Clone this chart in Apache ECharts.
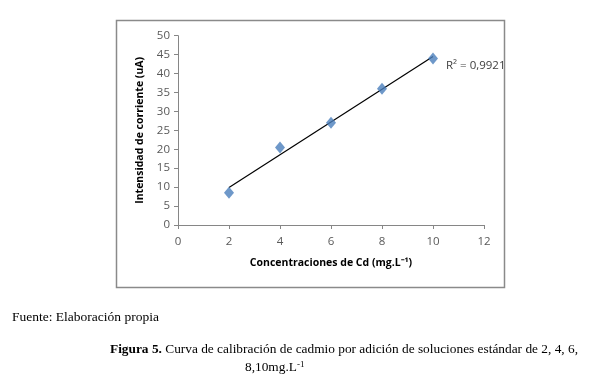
<!DOCTYPE html>
<html><head><meta charset="utf-8">
<script src="https://cdn.jsdelivr.net/npm/echarts@6/dist/echarts.min.js"></script>
<style>html,body{margin:0;padding:0;background:#fff}#c{width:589px;height:385px}</style>
</head><body><div id="c"></div>
<script>
const concentrations = [2, 4, 6, 8, 10];
const currents = [8.5, 20.5, 27, 36, 44];
const xTicks = [0, 2, 4, 6, 8, 10, 12];
const yTicks = [0, 5, 10, 15, 20, 25, 30, 35, 40, 45, 50];
const r2Label = 'R² = 0,9921';

// linear regression trendline from the data
const n = concentrations.length;
const mx = concentrations.reduce((a, b) => a + b, 0) / n;
const my = currents.reduce((a, b) => a + b, 0) / n;
let sxy = 0, sxx = 0;
for (let i = 0; i < n; i++) { sxy += (concentrations[i] - mx) * (currents[i] - my); sxx += (concentrations[i] - mx) ** 2; }
const slope = sxy / sxx, intercept = my - slope * mx;
const xMin = Math.min(...concentrations), xMax = Math.max(...concentrations);
const trend = [[xMin, intercept + slope * xMin], [xMax, intercept + slope * xMax]];

const chart = echarts.init(document.getElementById('c'), null, {renderer: 'canvas'});
const tickFont = {color: '#595959', fontFamily: 'Open Sans', fontSize: 11.5};
chart.setOption({
  animation: false,
  backgroundColor: '#fff',
  grid: {left: 178, right: 105, top: 35.7, bottom: 160, containLabel: false},
  xAxis: {
    type: 'value', min: xTicks[0], max: xTicks[xTicks.length - 1], interval: 2,
    name: 'Concentraciones de Cd (mg.L⁻¹)', nameLocation: 'middle', nameGap: 33,
    nameTextStyle: {color: '#000', fontFamily: 'Open Sans', fontSize: 10.5, fontWeight: 'bold'},
    axisLine: {lineStyle: {color: '#868686', width: 1}},
    axisTick: {show: true, length: 4, lineStyle: {color: '#868686'}},
    axisLabel: Object.assign({margin: 11}, tickFont),
    splitLine: {show: false}
  },
  yAxis: {
    type: 'value', min: yTicks[0], max: yTicks[yTicks.length - 1], interval: 5,
    name: 'Intensidad de corriente (uA)', nameLocation: 'middle', nameGap: 31,
    nameTextStyle: {color: '#000', fontFamily: 'Open Sans', fontSize: 10.5, fontWeight: 'bold'},
    axisLine: {show: true, lineStyle: {color: '#868686', width: 1}},
    axisTick: {show: true, length: 4, lineStyle: {color: '#868686'}},
    axisLabel: Object.assign({margin: 8}, tickFont),
    splitLine: {show: false}
  },
  series: [
    {type: 'line', data: trend, symbol: 'none', lineStyle: {color: '#000', width: 1.2}, silent: true, z: 2},
    {type: 'scatter', data: concentrations.map((x, i) => [x, currents[i]]), symbol: 'diamond', symbolSize: [10, 12],
     itemStyle: {color: '#4A7EBB'}, z: 3}
  ],
  graphic: [
    {type: 'rect', shape: {x: 116.5, y: 20.5, width: 388, height: 267}, style: {fill: 'none', stroke: '#8a8a8a', lineWidth: 1.5}, z: -1},
    {type: 'text', left: 446, top: 60, style: {text: r2Label, fill: '#404040', font: '11.5px "Open Sans"'}},
    {type: 'text', left: 12, top: 310, style: {text: 'Fuente: Elaboración propia', fill: '#000', font: '13.5px "Liberation Serif"'}},
    {type: 'text', left: 110, top: 343, style: {
      rich: {b: {fontFamily: 'Liberation Serif', fontSize: 13.35, fontWeight: 'bold', fill: '#000'},
             n: {fontFamily: 'Liberation Serif', fontSize: 13.35, fill: '#000'}},
      text: '{b|Figura 5.}{n| Curva de calibración de cadmio por adición de soluciones estándar de 2, 4, 6,}'
    }},
    {type: 'text', left: 245, top: 360, style: {
      rich: {n: {fontFamily: 'Liberation Serif', fontSize: 13.35, fill: '#000'},
             s: {fontFamily: 'Liberation Serif', fontSize: 9, fill: '#000', verticalAlign: 'top', padding: [0, 0, 6, 0]}},
      text: '{n|8,10mg.L}{s|-1}'
    }}
  ]
});
</script></body></html>
